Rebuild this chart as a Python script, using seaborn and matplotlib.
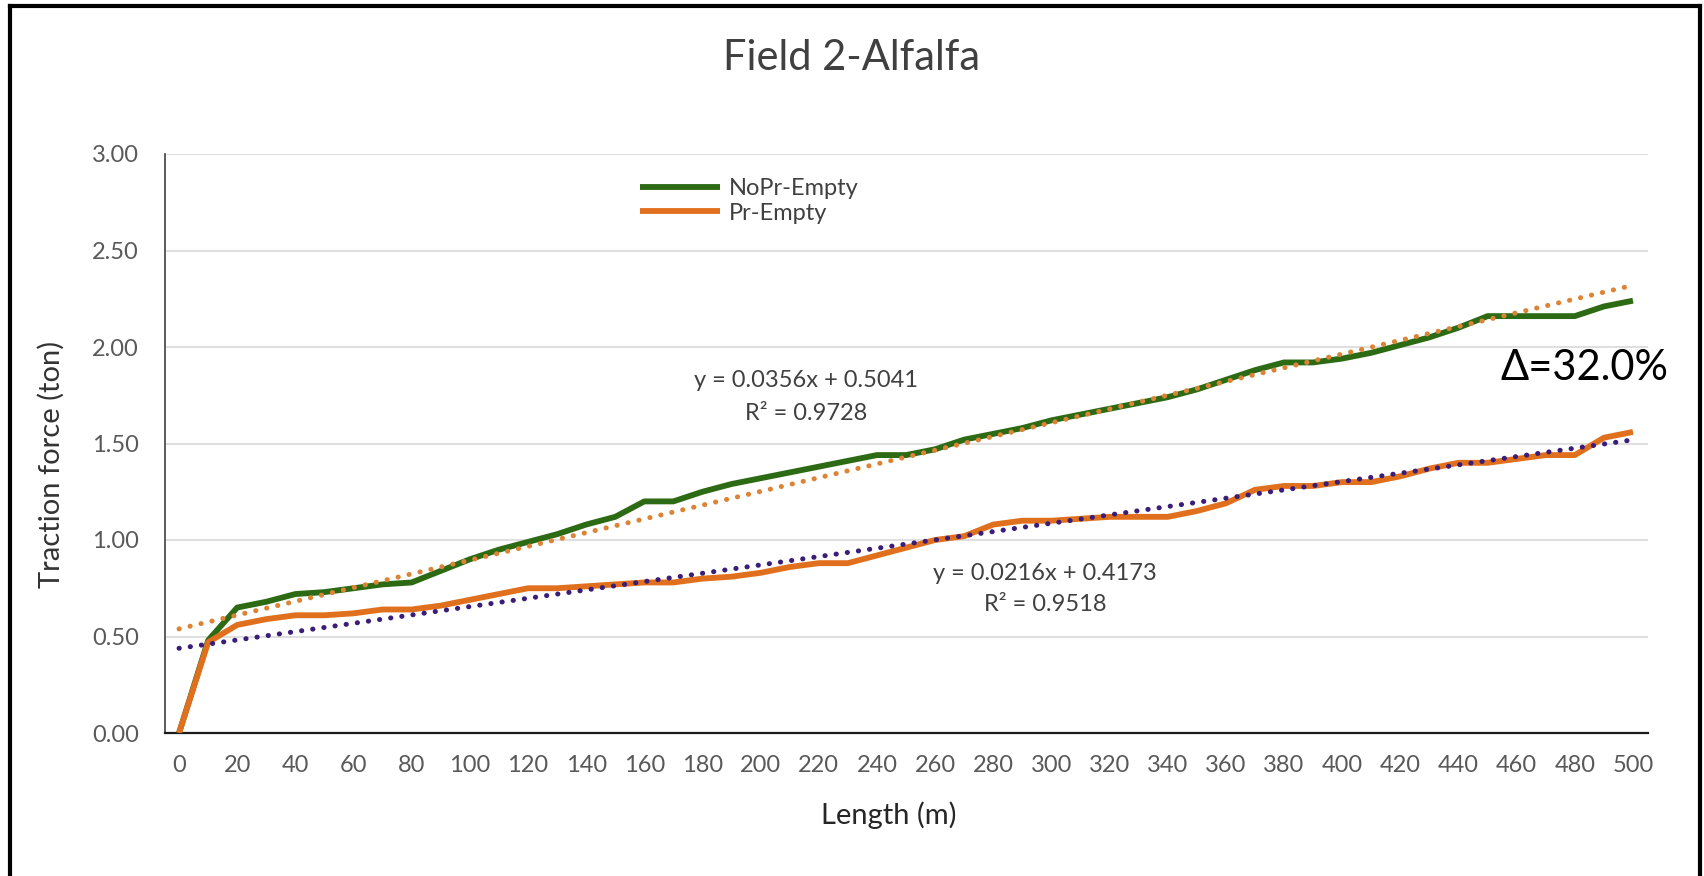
import numpy as np
import matplotlib.pyplot as plt
import seaborn as sns
from matplotlib.lines import Line2D
from matplotlib.ticker import FormatStrFormatter

# data (traction force in ton, every 10 m)
length = [0, 10, 20, 30, 40, 50, 60, 70, 80, 90,
          100, 110, 120, 130, 140, 150, 160, 170, 180, 190,
          200, 210, 220, 230, 240, 250, 260, 270, 280, 290,
          300, 310, 320, 330, 340, 350, 360, 370, 380, 390,
          400, 410, 420, 430, 440, 450, 460, 470, 480, 490, 500]
nopr_empty = [0.00, 0.48, 0.65, 0.68, 0.72, 0.73, 0.75, 0.77, 0.78, 0.84,
              0.90, 0.95, 0.99, 1.03, 1.08, 1.12, 1.20, 1.20, 1.25, 1.29,
              1.32, 1.35, 1.38, 1.41, 1.44, 1.44, 1.47, 1.52, 1.55, 1.58,
              1.62, 1.65, 1.68, 1.71, 1.74, 1.78, 1.83, 1.88, 1.92, 1.92,
              1.94, 1.97, 2.01, 2.05, 2.10, 2.16, 2.16, 2.16, 2.16, 2.21, 2.24]
pr_empty = [0.00, 0.47, 0.56, 0.59, 0.61, 0.61, 0.62, 0.64, 0.64, 0.66,
            0.69, 0.72, 0.75, 0.75, 0.76, 0.77, 0.78, 0.78, 0.80, 0.81,
            0.83, 0.86, 0.88, 0.88, 0.92, 0.96, 1.00, 1.02, 1.08, 1.10,
            1.10, 1.11, 1.12, 1.12, 1.12, 1.15, 1.19, 1.26, 1.28, 1.28,
            1.30, 1.30, 1.33, 1.37, 1.40, 1.40, 1.42, 1.44, 1.44, 1.53, 1.56]
series_names = ['NoPr-Empty', 'Pr-Empty']
# linear trendlines as printed on the chart (x = category index 1..51)
trend_slope = [0.0356, 0.0216]
trend_intercept = [0.5041, 0.4173]
trend_r2 = [0.9728, 0.9518]
delta_text = 'Δ=32.0%'

line_colors = ['#2d6a14', '#e0701e']
trend_colors = ['#dc8436', '#3a1d78']

sns.set_style('white')
plt.rcParams['font.family'] = ['Lato', 'DejaVu Sans']

W, H = 1704, 876
fig = plt.figure(figsize=(W / 100, H / 100), dpi=100)
ax = fig.add_axes([164.5 / W, 1 - 733 / H, 1483 / W, 579 / H])

for ys, name, col in zip([nopr_empty, pr_empty], series_names, line_colors):
    sns.lineplot(x=length, y=ys, ax=ax, color=col, lw=4.2, label=name,
                 solid_capstyle='butt', zorder=3)

idx = np.arange(1, len(length) + 1)
for a, b, col in zip(trend_slope, trend_intercept, trend_colors):
    ax.plot(length, a * idx + b, color=col, lw=3.6,
            linestyle=(0, (0.05, 2.2)), dash_capstyle='round', zorder=4)

ax.set_xlim(-5, 505)
ax.set_ylim(0, 3)
ax.set_xticks(length[::2])
ax.set_xticks([v - 5 for v in length] + [505], minor=True)
ax.set_yticks([0, 0.5, 1.0, 1.5, 2.0, 2.5, 3.0])
ax.yaxis.set_major_formatter(FormatStrFormatter('%.2f'))
ax.tick_params(axis='x', which='major', length=0, pad=16, labelsize=17,
               labelcolor='#595959')
ax.tick_params(axis='x', which='minor', length=6, width=1.2, color='#262626',
               direction='out')
ax.tick_params(axis='y', length=6.5, width=1, color='#595959', pad=12,
               labelsize=17, labelcolor='#595959', direction='out')
ax.yaxis.grid(True, color='#d9d9d9', lw=1.2)
ax.set_axisbelow(True)
for s in ['top', 'right']:
    ax.spines[s].set_visible(False)
ax.spines['left'].set_color('#404040')
ax.spines['left'].set_linewidth(1.2)
ax.spines['bottom'].set_color('#1a1a1a')
ax.spines['bottom'].set_linewidth(1.6)

ax.set_xlabel('Length (m)', fontsize=21, color='#262626')
ax.set_ylabel('Traction force (ton)', fontsize=21, color='#333333')
ax.xaxis.set_label_coords(0.4886, -0.1416)
ax.xaxis.label.set_va('center')
ax.yaxis.set_label_coords(-0.0765, 0.463)
ax.yaxis.label.set_va('center')

ax.legend(loc='upper left', bbox_to_anchor=(0.3206, 0.9585), frameon=False,
          borderpad=0, borderaxespad=0, handlelength=3.4, handletextpad=0.35,
          labelspacing=0.15, fontsize=17, labelcolor='#404040')

eq_pos = [(0.4326, 0.608, 0.5516), (0.5937, 0.2753, 0.2219)]
for (ex, ey, ry), a, b, r2 in zip(eq_pos, trend_slope, trend_intercept, trend_r2):
    ax.text(ex, ey, f'y = {a:.4f}x + {b:.4f}', transform=ax.transAxes,
            ha='center', va='center', fontsize=17, color='#404040')
    ax.text(ex, ry, f'R² = {r2:.4f}', transform=ax.transAxes,
            ha='center', va='center', fontsize=17, color='#404040')

ax.text(0.9578, 0.6304, delta_text, transform=ax.transAxes, ha='center',
        va='center', fontsize=30, color='black', clip_on=False)

fig.text(852 / W, 1 - 58 / H, 'Field 2-Alfalfa', ha='center', va='center',
         fontsize=30, color='#404040')

# outer frame (left, top, right)
fx0, fx1, fy1 = 10 / W, 1700 / W, 1 - 5.5 / H
for xs, ys in [([fx0, fx0], [0, fy1]), ([fx0, fx1], [fy1, fy1]),
               ([fx1, fx1], [0, fy1])]:
    fig.add_artist(Line2D(xs, ys, transform=fig.transFigure, color='black',
                          lw=3, solid_capstyle='projecting'))

fig.savefig('out.png', dpi=100)
